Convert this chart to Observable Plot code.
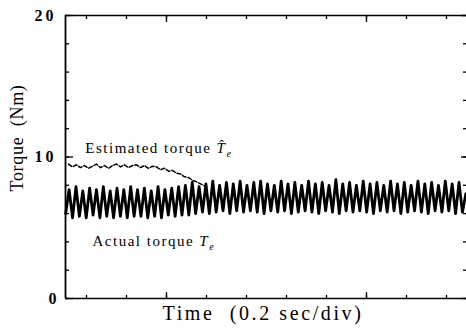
<!DOCTYPE html>
<html><head><meta charset="utf-8">
<script src="https://cdn.jsdelivr.net/npm/d3@7"></script>
<script src="https://cdn.jsdelivr.net/npm/@observablehq/plot@0.6"></script>
<style>
body{margin:0;background:#fff;}
</style></head><body><div id="chart"></div>
<script>
// Axis extents (divisions of 0.2 s; torque in Nm)
const xDomain = [-0.525, 9.5];
const yDomain = [0, 20];
const xTicks = [0,1,2,3,4,5,6,7,8,9];
const xMajorTicks = [2,7];
const yTicks = [0,2,4,6,8,10,12,14,16,18,20];
const yMajorTicks = [0,10,20];
const yTickLabels = [0,10,20];

// Actual torque Te: alternating peaks/troughs, sampled uniformly across the record
const actualStart = -0.52;
const actualStep = 0.0855;
const actualTorque = [
6.0,7.7,5.7,7.9,5.8,7.6,5.7,7.8,5.9,7.7,5.7,7.9,5.8,7.6,5.7,7.8,5.8,7.7,5.7,7.9,
5.8,7.7,5.8,7.8,5.7,7.6,5.8,7.9,5.7,7.7,5.9,7.8,5.8,7.9,5.9,8.0,5.9,8.2,6.0,7.9,
6.1,8.1,6.0,8.3,6.1,8.0,6.2,8.2,6.0,8.1,6.2,8.3,6.1,8.0,6.2,8.2,6.1,8.3,6.0,8.1,
6.2,8.0,6.1,8.3,6.2,8.1,6.0,8.2,6.1,8.0,6.2,8.3,6.1,8.1,6.0,8.2,6.2,8.0,6.1,8.4,
6.0,8.1,6.2,8.2,6.1,8.0,6.2,8.3,6.1,8.1,6.0,8.2,6.2,8.0,6.1,8.3,6.2,8.1,6.0,8.2,
6.1,8.0,6.2,8.3,6.1,8.1,6.0,8.2,6.2,8.0,6.1,8.3,6.2,8.1,6.0,8.2,6.1,7.4
];

// Estimated torque (dashed) until it converges
const estStart = -0.45;
const estStep = 0.1;
const estimatedTorque = [
9.50,9.30,9.45,9.25,9.40,9.20,9.35,9.50,9.25,9.40,9.20,9.40,9.50,9.30,9.45,9.25,9.40,9.45,
9.25,9.40,9.20,9.35,9.30,9.10,9.20,9.00,9.05,8.85,8.80,8.60,8.55,8.35,8.25,8.10,7.95
];

// Annotations
const annotLabels = ["Estimated torque ", "Actual torque "];
const annotX = [-0.03, 0.15];
const annotY = [10.65, 4.05];
const annotHat = [true, false];
const xTitle = "Time  (0.2 sec/div)";
const yTitle = "Torque  (Nm)";

const actualData = actualTorque.map((v,i)=>({t: actualStart + i*actualStep, v}));
const estData = estimatedTorque.map((v,i)=>({t: estStart + i*estStep, v}));
const annots = annotLabels.map((label,i)=>({label, x: annotX[i], y: annotY[i]}));

const font = "'Liberation Serif', 'Times New Roman', serif";

const chart = Plot.plot({
  width: 466, height: 334,
  marginLeft: 65, marginRight: 0, marginTop: 15, marginBottom: 36,
  x: {domain: xDomain, axis: null},
  y: {domain: yDomain, axis: null},
  style: {fontFamily: font, background: "white", color: "black", overflow: "visible"},
  marks: [
    Plot.line(actualData, {x: "t", y: "v", stroke: "black", strokeWidth: 2.8}),
    Plot.line(estData, {x: "t", y: "v", stroke: "black", strokeWidth: 1.5, strokeDasharray: "4,2"}),
    Plot.ruleY([yDomain[0]], {stroke: "black", strokeWidth: 1.6}),
    Plot.ruleY([yDomain[1]], {stroke: "black", strokeWidth: 1.6}),
    Plot.ruleX([xDomain[0]], {stroke: "black", strokeWidth: 1.8}),
    Plot.axisY(yTicks, {anchor: "left", tickSize: -4, text: null, label: null, strokeWidth: 1.3}),
    Plot.axisY(yMajorTicks, {anchor: "left", tickSize: -8, text: null, label: null, strokeWidth: 1.3}),
    Plot.axisY(yTicks, {anchor: "right", tickSize: -4, text: null, label: null, strokeWidth: 1.3}),
    Plot.axisY(yMajorTicks, {anchor: "right", tickSize: -6, text: null, label: null, strokeWidth: 1.3}),
    Plot.axisX(xTicks, {anchor: "bottom", tickSize: -3, text: null, label: null, strokeWidth: 1.3}),
    Plot.axisX(xMajorTicks, {anchor: "bottom", tickSize: -6, text: null, label: null, strokeWidth: 1.3}),
    Plot.axisX(xTicks, {anchor: "top", tickSize: -3, text: null, label: null, strokeWidth: 1.3}),
    Plot.axisX(xMajorTicks, {anchor: "top", tickSize: -6, text: null, label: null, strokeWidth: 1.3}),
    Plot.axisY(yTickLabels, {anchor: "left", tickSize: 0, tickPadding: 9, label: null, fontSize: 16, fontWeight: "bold"}),
    Plot.text([xTitle], {frameAnchor: "bottom", lineAnchor: "middle", textAnchor: "middle", dx: -3, dy: 15, fontSize: 20}),
    Plot.text([yTitle], {frameAnchor: "left", lineAnchor: "middle", textAnchor: "middle", dx: -48, dy: -19, rotate: -90, fontSize: 18}),
    Plot.text(annots, {x: "x", y: "y", text: "label", textAnchor: "start", fontSize: 15})
  ]
});

// letter spacing of the scanned lettering, and italic T̂e / Te symbols
const ns = "http://www.w3.org/2000/svg";
chart.querySelectorAll("text").forEach(t => {
  const s = t.textContent;
  if (s === xTitle) t.style.letterSpacing = "2.6px";
  else if (s === yTitle) t.style.letterSpacing = "0.7px";
  else if (s === "10" || s === "20") t.style.letterSpacing = "3px";
  const i = annotLabels.indexOf(s);
  if (i >= 0) {
    t.style.letterSpacing = "1.5px";
    const tT = document.createElementNS(ns, "tspan");
    tT.setAttribute("font-style", "italic");
    tT.textContent = annotHat[i] ? "T\u0302" : "T";
    const tE = document.createElementNS(ns, "tspan");
    tE.setAttribute("font-style", "italic");
    tE.setAttribute("font-size", "10");
    tE.setAttribute("dy", "4");
    tE.textContent = "e";
    t.appendChild(tT); t.appendChild(tE);
  }
});
document.getElementById("chart").appendChild(chart);
</script>
</body></html>
